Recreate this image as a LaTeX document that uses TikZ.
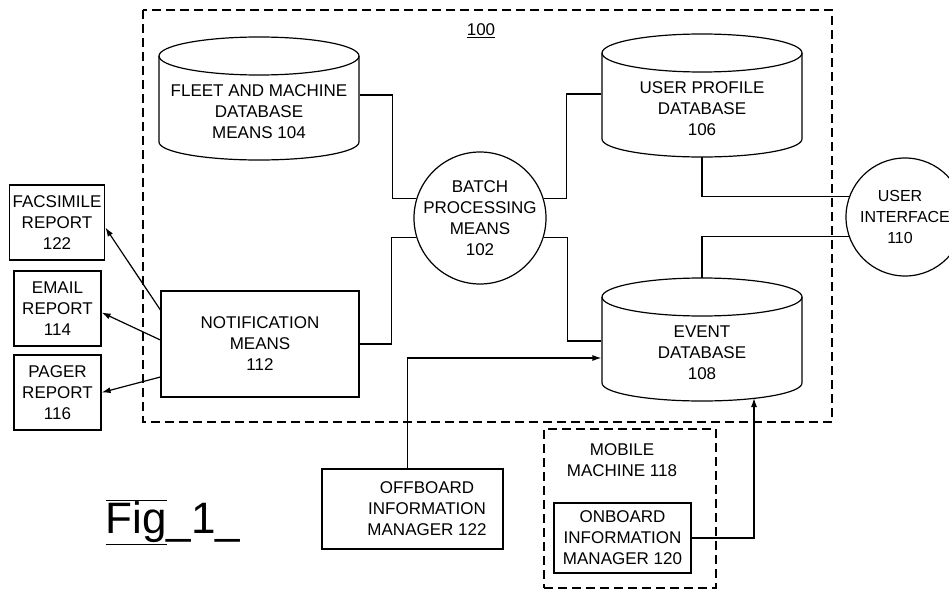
\documentclass[tikz,border=0pt]{standalone}
\usepackage{fontspec}
\setmainfont{Liberation Sans}
\usetikzlibrary{arrows.meta}

\begin{document}
\begin{tikzpicture}[x=1pt,y=1pt,line width=1.2pt,
    font=\fontsize{17}{21}\selectfont]
        \tikzstyle{box}=[rectangle,draw,align=center]
        \tikzstyle{db}=[rectangle,minimum width=200pt,minimum height=60pt,align=center]
        \tikzstyle{bubble}=[circle,draw,align=center,inner sep=-3pt]
        \tikzstyle{dashframe}=[draw,dash pattern=on 9pt off 5pt]
        \tikzstyle{arr}=[-{Latex[length=9pt,width=6pt]}]
        \useasboundingbox (0,0) rectangle (949,590);
        % system boundary
        \draw[dashframe] (143,580) rectangle (832,168);
        \node (num) at (481,559) {\underline{100}};
        % databases
        \node[db] (fleet) at (259,478) {FLEET AND MACHINE\\DATABASE\\MEANS 104};
        \node[db] (profile) at (702,481) {USER PROFILE\\DATABASE\\106};
        \node[db] (event) at (702,237) {EVENT\\DATABASE\\108};
        \foreach \n in {fleet,profile,event}{
          \draw ([shift={(-100pt,56pt)}]\n.center) -- ([shift={(-100pt,-30pt)}]\n.center)
            arc[start angle=180,end angle=360,x radius=100pt,y radius=18pt]
            -- ([shift={(100pt,56pt)}]\n.center);
          \draw ([yshift=56pt]\n.center) ellipse[x radius=100pt,y radius=19pt];
        }
        \node[bubble,minimum size=132pt] (batch) at (480,372) {BATCH\\PROCESSING\\MEANS\\102};
        \node[bubble,minimum size=118pt,inner sep=-2pt,font=\fontsize{16}{21}\selectfont] (ui) at (905,373)
          {USER\hspace*{10pt}\\INTERFACE\hspace*{10pt}\\110\hspace*{10pt}};
        \node[box,minimum width=198pt,minimum height=106pt] (notif) at (260,246) {NOTIFICATION\\MEANS\\112};
        % reports
        \node[box,minimum width=88pt,minimum height=75pt] (fax) at (57,367.5) {FACSIMILE\\REPORT\\122};
        \node[box,minimum width=87pt,minimum height=75pt] (email) at (57.5,281.5) {EMAIL\\REPORT\\114};
        \node[box,minimum width=87pt,minimum height=75pt] (pager) at (57.5,197.5) {PAGER\\REPORT\\116};
        % outside the system
        \node[box,minimum width=181pt,minimum height=80pt] (offboard) at (412.5,81)
          {\hspace*{29pt}OFFBOARD\\\hspace*{29pt}INFORMATION\\\hspace*{29pt}MANAGER 122};
        \node[dashframe,minimum width=172pt,minimum height=159pt] (mobile) at (630,81.5) {};
        \node[align=center] (mlabel) at (622,130) {MOBILE\\MACHINE 118};
        \node[box,minimum width=137pt,minimum height=70pt] (onboard) at (622.5,52) {ONBOARD\\INFORMATION\\MANAGER 120};
        \node (fig) at (173,68) {\fontsize{44}{48}\selectfont$\overline{\underline{\hbox{Fig}}}$\_1\_};
        % connections
        \draw ([yshift=17pt]fleet.east) -- ++(33,0) |- (batch.163);
        \draw (batch.17) -- ++(23,0) |- ([yshift=15pt]profile.west);
        \draw ([yshift=-48pt]profile.center) |- (ui.160);
        \draw (ui.199) -| ([yshift=75pt]event.center);
        \draw (batch.343) -- ++(24,0) |- ([yshift=12pt]event.west);
        \draw (batch.197) -- ++(-25,0) |- (notif.east);
        \draw[arr] ([yshift=34pt]notif.west) -- ([yshift=-5pt]fax.east);
        \draw[arr] ([yshift=4pt]notif.west) -- ([yshift=-4pt]email.east);
        \draw[arr] ([yshift=-33pt]notif.west) -- (pager.east);
        \draw[arr] ([xshift=-5pt]offboard.north) |- ([yshift=-5pt]event.west);
        \draw[arr] (onboard.east) -| ([shift={(52pt,-45pt)}]event.center);
\end{tikzpicture}
\end{document}
